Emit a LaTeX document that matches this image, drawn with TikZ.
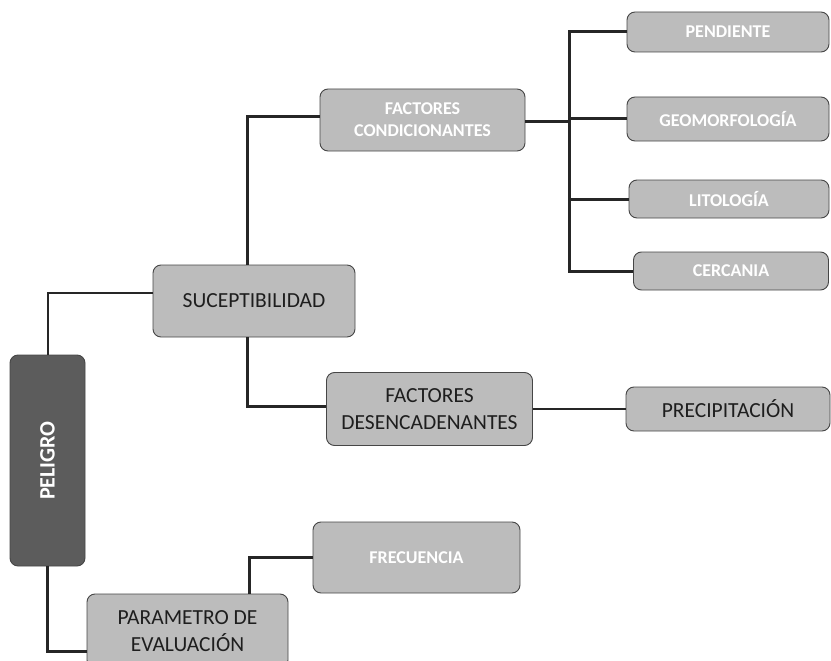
\documentclass[tikz,border=0pt]{standalone}
\usepackage{fontspec}
\setmainfont{Carlito}
\usepackage{xcolor}
\usepackage{graphicx}
\usepackage{tikz}
\usetikzlibrary{positioning, calc}
\definecolor{boxgray}{RGB}{188, 188, 188}
\definecolor{darkgray}{RGB}{92, 92, 92}
\definecolor{edgegray}{RGB}{70, 70, 70}
\definecolor{textgray}{RGB}{30, 30, 30}

\begin{document}
\begin{tikzpicture}[x=1pt, y=-1pt,
    box/.style={draw=edgegray, line width=0.9pt, fill=boxgray, rounded corners=8pt,
        align=center, inner sep=0pt, text=textgray, font=\fontsize{21.5}{27}\selectfont},
    lightbox/.style={box, text=white, font=\bfseries\fontsize{18}{22}\selectfont},
    link/.style={line width=3pt, black!85}]
    \useasboundingbox (0,0) rectangle (831,661);

    \node[box, fill=darkgray, text=white, minimum width=75pt, minimum height=211pt,
        font=\bfseries\fontsize{22}{27}\selectfont] (peligro) at (47.5,460.5) {\rotatebox{90}{PELIGRO}};
    \node[box, minimum width=202pt, minimum height=72pt] (suceptibilidad) at (254,301) {SUCEPTIBILIDAD};
    \node[lightbox, minimum width=205pt, minimum height=62pt] (condicionantes) at (422.5,120) {FACTORES\\CONDICIONANTES};
    \node[box, minimum width=206pt, minimum height=73pt] (desencadenantes) at (429.5,409) {FACTORES\\DESENCADENANTES};
    \node[box, minimum width=204pt, minimum height=44pt] (precipitacion) at (728,409) {PRECIPITACIÓN};
    \node[box, minimum width=201pt, minimum height=74pt] (parametro) at (187.5,631) {PARAMETRO DE\\EVALUACIÓN};
    \node[lightbox, minimum width=207pt, minimum height=71pt] (frecuencia) at (416.5,557.5) {FRECUENCIA};
    \node[lightbox, minimum width=202pt, minimum height=40pt] (pendiente) at (728,32) {PENDIENTE};
    \node[lightbox, minimum width=202pt, minimum height=44pt] (geomorfologia) at (728,119) {GEOMORFOLOGÍA};
    \node[lightbox, minimum width=200pt, minimum height=38pt] (litologia) at (729,199) {LITOLOGÍA};
    \node[lightbox, minimum width=195pt, minimum height=38pt] (cercania) at (731,271) {CERCANIA};

    \coordinate (trunk) at (569,122);

    \draw[link, line width=2pt] (peligro.north) |- ([yshift=8pt]suceptibilidad.west);
    \draw[link] (peligro.south) |- ([yshift=-20pt]parametro.west);
    \draw[link] ([xshift=62pt]parametro.north) |- (frecuencia.west);
    \draw[link] ([xshift=-7pt]suceptibilidad.south) |- ([yshift=3pt]desencadenantes.west);
    \draw[link] ([xshift=-7pt]suceptibilidad.north) |- ([yshift=3pt]condicionantes.west);
    \draw[link, line width=2pt] (desencadenantes) -- (precipitacion);
    \draw[link] (condicionantes.east |- trunk) -- (trunk);
    \draw[link] (trunk) |- (pendiente.west);
    \draw[link] (trunk) |- (geomorfologia.west);
    \draw[link] (trunk) |- (litologia.west);
    \draw[link] (trunk) |- (cercania.west);
\end{tikzpicture}
\end{document}
